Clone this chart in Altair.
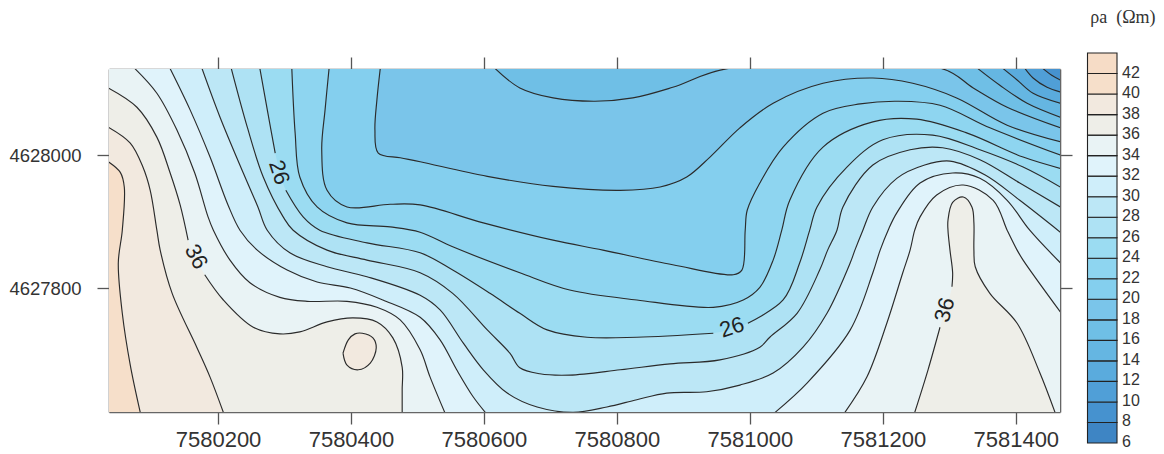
import altair as alt
import pandas as pd

E0 = 7580000
N0 = 4627600
XMIN, XMAX = 36, 1466.5
YMIN, YMAX = 13.5, 529.5
X_TICKS = [7580200, 7580400, 7580600, 7580800, 7581000, 7581200, 7581400]
Y_TICKS = [4627800, 4628000]

BAND = {6: "#3e85c4", 8: "#4692cf", 10: "#509fd7", 12: "#5aabdd", 14: "#65b6e2", 16: "#6fbfe6",
        18: "#7ac5ea", 20: "#84cfee", 22: "#8ed5f0", 24: "#9bdcf2", 26: "#aee2f4", 28: "#bce7f6",
        30: "#cfeefa", 32: "#e0f3fb", 34: "#e9f3f5", 36: "#eeeee8", 38: "#f2e9df", 40: "#f6dfca",
        42: "#f6dcc6"}

# Contour lines, metres east of E0 and north of N0
C10_E = [1441, 1454, 1467]
C10_N = [530, 520, 513]
C12_E = [1414, 1426, 1447, 1467]
C12_N = [530, 516, 502, 495]
C14_E = [1381, 1402, 1426, 1467]
C14_N = [530, 513, 493, 478]
C16_E = [1343, 1376, 1417, 1467]
C16_N = [530, 505, 478, 457]
C18_E = [617, 654, 704, 767, 824, 884, 966, 1289, 1336, 1387, 1467]
C18_N = [530, 501, 486, 481, 486, 502, 530, 530, 501, 472, 441]
C20_E = [444, 439, 436, 441, 474, 504, 605, 704, 805, 865, 905, 940, 985, 1035, 1110, 1185, 1245, 1311, 1387, 1467]
C20_N = [530, 483, 438, 403, 396, 390, 368, 353, 347, 352, 367, 397, 441, 478, 508, 516, 508, 486, 445, 420]
C22_E = [367, 361, 356, 364, 394, 459, 504, 599, 704, 779, 884, 975, 988, 993, 996, 1015, 1050, 1110, 1166, 1221, 1286, 1361, 1467]
C22_N = [530, 468, 408, 347, 322, 326, 325, 298, 272, 257, 235, 220, 227, 287, 317, 358, 412, 463, 477, 481, 475, 441, 400]
C24_E = [311, 316, 323, 349, 394, 459, 504, 553, 654, 729, 830, 945, 990, 1015, 1035, 1048, 1060, 1110, 1185, 1251, 1327, 1411, 1467]
C24_N = [530, 433, 367, 322, 298, 292, 284, 262, 223, 197, 182, 171, 182, 201, 242, 287, 332, 412, 450, 454, 433, 397, 380]
C26A_E = [263, 275, 286]
C26A_N = [530, 463, 403]
C26B_E = [302, 328, 353, 424, 504, 553, 609, 654, 695, 755, 830, 945]
C26B_N = [347, 307, 287, 268, 253, 227, 192, 162, 137, 126, 126, 132]
C26C_E = [997, 1050, 1075, 1090, 1101, 1146, 1200, 1275, 1346, 1411, 1467]
C26C_N = [147, 182, 238, 287, 322, 382, 423, 430, 408, 382, 352]
C28_E = [220, 244, 268, 298, 313, 364, 424, 504, 553, 605, 639, 654, 684, 729, 805, 880, 955, 1015, 1030, 1071, 1105, 1117, 1131, 1140, 1185, 1241, 1290, 1346, 1406, 1467]
C28_N = [530, 442, 367, 307, 287, 257, 242, 223, 192, 137, 102, 80, 71, 69, 77, 86, 92, 111, 126, 162, 227, 257, 287, 322, 385, 408, 411, 393, 358, 322]
C30_E = [176, 203, 238, 260, 274, 308, 364, 424, 504, 534, 569, 599, 635, 680, 734, 785, 830, 875, 935, 985, 1035, 1080, 1116, 1151, 1158, 1170, 1185, 1221, 1263, 1301, 1354, 1406, 1467]
C30_N = [530, 457, 373, 322, 287, 253, 232, 217, 189, 167, 117, 77, 42, 21, 13, 21, 32, 42, 44, 54, 72, 111, 162, 238, 257, 287, 322, 365, 385, 391, 370, 332, 284]
C32L_E = [128, 158, 188, 215, 233, 259, 304, 349, 399, 448, 504, 534, 559, 584, 602]
C32L_N = [530, 468, 397, 325, 287, 257, 227, 209, 200, 182, 156, 122, 77, 36, 13]
C32R_E = [1038, 1086, 1151, 1185, 1196, 1208, 1221, 1256, 1305, 1346, 1387, 1421, 1467]
C32R_N = [13, 57, 137, 223, 257, 287, 313, 358, 373, 365, 332, 287, 238]
C34L_E = [75, 108, 138, 165, 185, 193, 218, 248, 293, 334, 394, 439, 474, 504, 519, 541]
C34L_N = [530, 493, 438, 373, 307, 287, 242, 208, 186, 180, 180, 171, 152, 107, 66, 13]
C34R_E = [1143, 1176, 1206, 1230, 1241, 1248, 1256, 1281, 1321, 1366, 1387, 1402, 1411, 1467]
C34R_N = [13, 66, 147, 223, 257, 287, 307, 340, 355, 332, 287, 257, 242, 164]
C36LA_E = [35, 78, 108, 128, 143, 155]
C36LA_N = [501, 472, 427, 373, 325, 272]
C36LB_E = [180, 208, 253, 293, 323, 364, 403, 439, 463, 477, 477, 477]
C36LB_N = [220, 182, 141, 131, 134, 149, 155, 149, 125, 81, 47, 13]
C36RA_E = [1248, 1268, 1286]
C36RA_N = [13, 77, 141]
C36RB_E = [1304, 1305, 1301, 1298, 1298, 1305, 1321, 1334, 1337, 1337, 1339, 1361, 1402, 1436, 1459]
C36RB_N = [202, 223, 257, 287, 302, 329, 337, 322, 298, 257, 232, 192, 147, 73, 13]
C38_E = [35, 68, 87, 98, 108, 113, 131, 168, 188, 208]
C38_N = [442, 418, 382, 347, 287, 257, 192, 111, 66, 13]
C38I_E = [388, 396, 406, 417, 433, 438, 429, 411, 394, 388]
C38I_N = [102, 122, 131, 132, 125, 110, 87, 77, 84, 102]
C40_E = [35, 53, 59, 56, 50, 56, 68, 83]
C40_N = [390, 374, 352, 287, 238, 162, 84, 13]

BASE = 13


def from_corner(es, ns):
    # the region starts in the top left corner and runs along the top edge to the contour
    return [35, es[0] - 25, es[0] - 1] + es, [540, 540, 540] + ns


# level, (east, north), closing line of the filled region
FILLS = [
    (8, ([35, 1467], [530, 530]), BASE),
    (10, from_corner(C10_E, C10_N), BASE),
    (12, from_corner(C12_E, C12_N), BASE),
    (14, from_corner(C14_E, C14_N), BASE),
    (16, from_corner(C16_E, C16_N), BASE),
    (18, from_corner(C18_E, C18_N), BASE),
    (20, from_corner(C20_E, C20_N), BASE),
    (22, from_corner(C22_E, C22_N), BASE),
    (24, from_corner(C24_E, C24_N), BASE),
    (26, from_corner(C26A_E + C26B_E + C26C_E, C26A_N + C26B_N + C26C_N), BASE),
    (28, from_corner(C28_E, C28_N), BASE),
    (30, from_corner(C30_E, C30_N), BASE),
    (32, from_corner(C32L_E, C32L_N), BASE),
    (32, (C32R_E, C32R_N), BASE),
    (34, from_corner(C34L_E, C34L_N), BASE),
    (34, (C34R_E, C34R_N), BASE),
    (36, (C36LA_E + C36LB_E, C36LA_N + C36LB_N), BASE),
    (36, (C36RA_E + C36RB_E, C36RA_N + C36RB_N), BASE),
    (38, (C38_E, C38_N), BASE),
    (38, (C38I_E, C38I_N), C38I_N[0]),
    (40, (C40_E, C40_N), BASE),
]
LINES = [(C10_E, C10_N), (C12_E, C12_N), (C14_E, C14_N), (C16_E, C16_N), (C18_E, C18_N),
         (C20_E, C20_N), (C22_E, C22_N), (C24_E, C24_N), (C26A_E, C26A_N), (C26B_E, C26B_N),
         (C26C_E, C26C_N), (C28_E, C28_N), (C30_E, C30_N), (C32L_E, C32L_N), (C32R_E, C32R_N),
         (C34L_E, C34L_N), (C34R_E, C34R_N), (C36LA_E, C36LA_N), (C36LB_E, C36LB_N),
         (C36RA_E, C36RA_N), (C36RB_E, C36RB_N), (C38_E, C38_N), (C38I_E, C38I_N), (C40_E, C40_N)]

LABEL_TEXT = ["26", "36", "26", "36"]
LABEL_E = [292, 167, 973, 1293]
LABEL_N = [374, 247, 141, 167]
LABEL_ANGLE = [72, 62, 342, 285]

LEGEND_LOW = list(range(6, 44, 2))
LEGEND_TICKS = list(range(6, 44, 2))

line_rows = []
for sid, (es, ns) in enumerate(LINES):
    for i, (e, n) in enumerate(zip(es, ns)):
        line_rows.append({"sid": sid, "i": i, "e": E0 + e, "n": N0 + n})
lines = pd.DataFrame(line_rows)
labels = pd.DataFrame({"t": LABEL_TEXT, "e": [E0 + v for v in LABEL_E], "n": [N0 + v for v in LABEL_N], "a": LABEL_ANGLE})
cells = pd.DataFrame({"lo": LEGEND_LOW, "hi": [v + 2 for v in LEGEND_LOW], "c": [BAND[v] for v in LEGEND_LOW], "x0": 0, "x1": 1})
ticks = pd.DataFrame({"v": LEGEND_TICKS, "t": [str(v) for v in LEGEND_TICKS], "x": 1})
head = pd.DataFrame({"x": [1.2], "y": [47.4], "t": ["\u03c1a\u00a0\u00a0(\u03a9m)"]})

xs = alt.Scale(domain=[E0 + XMIN, E0 + XMAX], nice=False, zero=False)
ys = alt.Scale(domain=[N0 + YMIN, N0 + YMAX], nice=False, zero=False)
lx = alt.Scale(domain=[0, 1], range=[978.5, 1008])
ly = alt.Scale(domain=[6, 44], range=[374, -16])

AX = dict(grid=False, title=None, format="d", domainColor="#666666", domainWidth=1.6, tickColor="#555555",
          tickWidth=1.3, tickSize=12, labelColor="#333333", labelFont="Liberation Sans")

fill_layers = []
for lev, (es, ns), base in FILLS:
    frame = pd.DataFrame({"e": [E0 + v for v in es], "n": [N0 + v for v in ns], "b": N0 + base})
    fill_layers.append(
        alt.Chart(frame).mark_area(interpolate="catmull-rom", clip=True, color=BAND[lev], opacity=1, order=False).encode(
            x=alt.X("e:Q", scale=xs, axis=None),
            y=alt.Y("n:Q", scale=ys, axis=None, stack=None),
            y2=alt.Y2("b:Q"),
        )
    )
line_layer = alt.Chart(lines).mark_line(interpolate="catmull-rom", clip=True, color="#2b2b2b", strokeWidth=1.15).encode(
    x=alt.X("e:Q", scale=xs, axis=alt.Axis(values=X_TICKS, orient="top", labels=False, **AX)),
    y=alt.Y("n:Q", scale=ys, axis=alt.Axis(values=Y_TICKS, orient="right", labels=False, **AX)),
    detail="sid:N",
    order="i:Q",
)
frame_layer = alt.Chart(lines).mark_line(opacity=0).encode(
    x=alt.X("e:Q", scale=xs, axis=alt.Axis(values=X_TICKS, orient="bottom", labelFontSize=22, labelPadding=5, **AX)),
    y=alt.Y("n:Q", scale=ys, axis=alt.Axis(values=Y_TICKS, orient="left", labelFontSize=18.5, labelPadding=16, **AX)),
    detail="sid:N",
    order="i:Q",
)
label_layer = alt.Chart(labels).mark_text(font="Liberation Sans", fontSize=22, color="#222222").encode(
    x=alt.X("e:Q", scale=xs, axis=None),
    y=alt.Y("n:Q", scale=ys, axis=None),
    text="t:N",
    angle=alt.Angle("a:Q", scale=None),
)
cell_layer = alt.Chart(cells).mark_rect(stroke="#222222", strokeWidth=1.1).encode(
    x=alt.X("x0:Q", scale=lx, axis=None),
    x2="x1:Q",
    y=alt.Y("lo:Q", scale=ly, axis=None),
    y2="hi:Q",
    color=alt.Color("c:N", scale=None),
)
tick_layer = alt.Chart(ticks).mark_text(font="Liberation Sans", fontSize=16, color="#333333", align="left", dx=5, dy=-1).encode(
    x=alt.X("x:Q", scale=lx, axis=None),
    y=alt.Y("v:Q", scale=ly, axis=None),
    text="t:N",
)
head_layer = alt.Chart(head).mark_text(font="Liberation Serif", fontSize=18, color="#333333").encode(
    x=alt.X("x:Q", scale=lx, axis=None),
    y=alt.Y("y:Q", scale=ly, axis=None),
    text="t:N",
)

chart = alt.layer(*fill_layers, line_layer, frame_layer, label_layer, cell_layer, tick_layer, head_layer).resolve_scale(
    x="independent", y="independent"
).properties(
    width=951, height=343,
    padding={"left": 101, "top": 61, "right": 96, "bottom": 38},
    autosize=alt.AutoSizeParams(type="none"),
).configure_view(stroke=None)

chart.save("out.html", embed_options={"renderer": "svg", "actions": False})
